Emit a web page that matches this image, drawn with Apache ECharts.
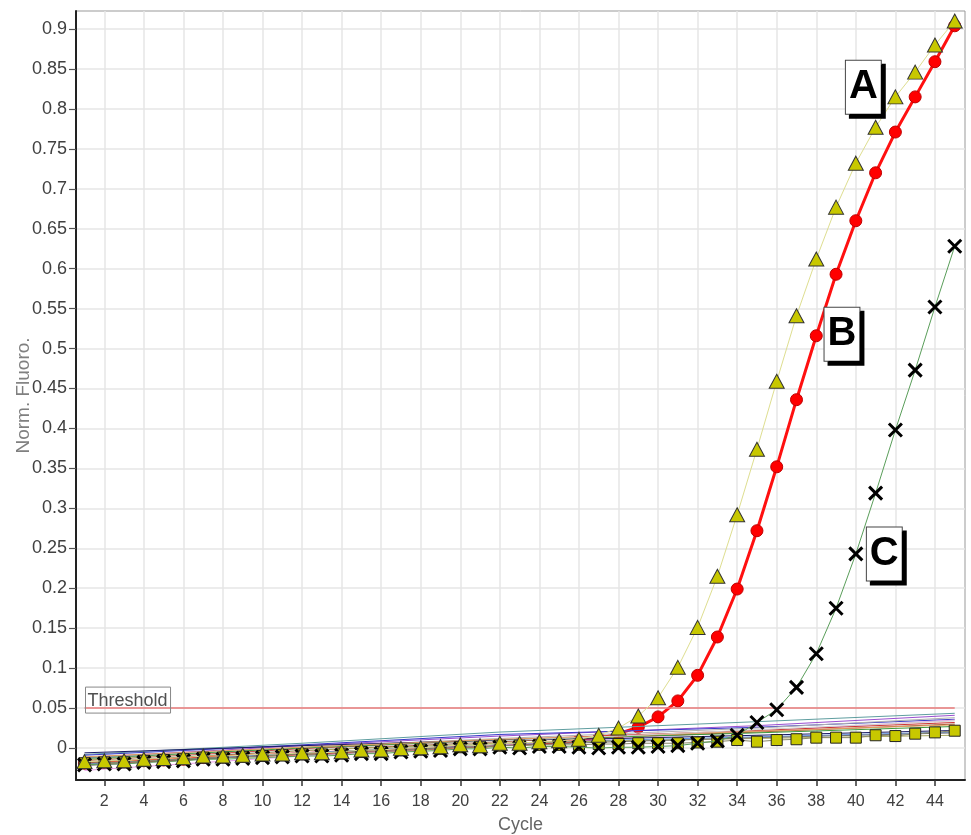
<!DOCTYPE html>
<html><head><meta charset="utf-8">
<script src="https://cdn.jsdelivr.net/npm/echarts@6/dist/echarts.min.js"></script>
<style>html,body{margin:0;padding:0;background:#fff}#c{width:971px;height:835px}</style>
</head><body><div id="c"></div>
<script>
// ---- data ----
const cycles = [1,2,3,4,5,6,7,8,9,10,11,12,13,14,15,16,17,18,19,20,21,22,23,24,25,26,27,28,29,30,31,32,33,34,35,36,37,38,39,40,41,42,43,44,45];
const xTickValues = [2,4,6,8,10,12,14,16,18,20,22,24,26,28,30,32,34,36,38,40,42,44];
const yTickValues = [0,0.05,0.1,0.15,0.2,0.25,0.3,0.35,0.4,0.45,0.5,0.55,0.6,0.65,0.7,0.75,0.8,0.85,0.9];

// A: yellow triangles
const seriesA = [-0.017,-0.016,-0.016,-0.014,-0.013,-0.012,-0.010,-0.010,-0.009,-0.0075,-0.0075,-0.006,-0.006,-0.0046,-0.0025,-0.0025,-0.0004,0.0004,0.0017,0.004,0.003,0.006,0.006,0.008,0.009,0.011,0.016,0.025,0.040,0.063,0.101,0.151,0.215,0.292,0.374,0.459,0.541,0.612,0.677,0.732,0.777,0.815,0.846,0.880,0.910];
// B: red circles
const seriesB = [-0.019,-0.018,-0.017,-0.016,-0.015,-0.014,-0.012,-0.011,-0.010,-0.009,-0.008,-0.007,-0.006,-0.005,-0.004,-0.003,-0.002,-0.001,0.000,0.002,0.002,0.004,0.005,0.006,0.007,0.009,0.012,0.018,0.026,0.039,0.059,0.091,0.139,0.199,0.272,0.352,0.436,0.516,0.593,0.660,0.720,0.771,0.815,0.859,0.904];
// C: black crosses
const seriesC = [-0.021,-0.020,-0.020,-0.018,-0.017,-0.016,-0.014,-0.014,-0.013,-0.012,-0.011,-0.010,-0.010,-0.009,-0.007,-0.007,-0.005,-0.004,-0.003,-0.001,-0.001,0.001,0.000,0.002,0.002,0.001,0.000,0.001,0.001,0.002,0.003,0.006,0.009,0.016,0.032,0.048,0.076,0.118,0.175,0.243,0.319,0.398,0.473,0.552,0.628];
// D: yellow squares
const seriesD = [-0.019,-0.018,-0.018,-0.016,-0.015,-0.014,-0.012,-0.012,-0.011,-0.010,-0.009,-0.008,-0.008,-0.007,-0.005,-0.005,-0.003,-0.002,-0.001,0.001,0.001,0.003,0.003,0.004,0.004,0.004,0.005,0.005,0.006,0.006,0.006,0.007,0.008,0.010,0.008,0.010,0.011,0.013,0.013,0.013,0.016,0.015,0.018,0.0196,0.0217];

// background (unlabelled) traces, sampled at these cycles
const bgCycles = [1,12,22,28,35,45];
const bg1  = [-0.008,0.006,0.020,0.026,0.033,0.0435];
const bg2  = [-0.012,0.003,0.015,0.021,0.028,0.041];
const bg3  = [-0.009,0.004,0.017,0.021,0.026,0.036];
const bg4  = [-0.014,0.001,0.012,0.018,0.025,0.038];
const bg5  = [-0.028,-0.010,0.004,0.012,0.021,0.035];
const bg6  = [-0.016,-0.001,0.010,0.016,0.022,0.032];
const bg7  = [-0.018,-0.003,0.008,0.014,0.020,0.030];
const bg8  = [-0.013,0.000,0.010,0.014,0.019,0.027];
const bg9  = [-0.006,0.003,0.010,0.012,0.016,0.022];
const bg10 = [-0.020,-0.006,0.005,0.010,0.014,0.020];
const bg11 = [-0.015,-0.003,0.006,0.009,0.012,0.016];
const bg12 = [-0.011,0.001,0.011,0.015,0.021,0.029];
const bg13 = [-0.017,-0.002,0.009,0.015,0.023,0.034];
const bg14 = [-0.022,-0.007,0.003,0.008,0.013,0.019];
const bgTraces = [bg1,bg2,bg3,bg4,bg5,bg6,bg7,bg8,bg9,bg10,bg11,bg12,bg13,bg14];

const thresholdValue = 0.05;
const thresholdSpan = [1, 45];
const thresholdText = 'Threshold';

const annoNames = ['A','B','C'];
const annoCycles = [40.38, 39.30, 41.44];
const annoValues = [0.827, 0.518, 0.243];

// ---- styles ----
const FONT = 'Arial, "Liberation Sans", sans-serif';
const bgColors = ['#5f9ea0','#9a4fd0','#3838c8','#b0b0b0','#e8a0e8','#cc3333','#a0522d','#3c9a3c','#1a1a66','#5c8fe0','#a8a860','#e0a060','#d0d0d0','#707070'];

const pairs = (xs, ys) => xs.map((x, i) => [x, ys[i]]);

const series = [];
series.push({
  type: 'line', data: pairs(cycles, seriesB), z: 1, showAllSymbol: true,
  symbol: 'circle', symbolSize: 12,
  itemStyle: { color: '#ff0000', borderColor: '#c00000', borderWidth: 1 },
  lineStyle: { color: '#ff1010', width: 3 }
});
bgTraces.forEach((tr, k) => {
  series.push({
    type: 'line', data: pairs(bgCycles, tr), symbol: 'none', silent: true,
    lineStyle: { color: bgColors[k], width: 1 }, z: 2
  });
});
series.push({
  type: 'line', silent: true, z: 3,
  data: [
    { value: [thresholdSpan[0], thresholdValue], label: {
        show: true, formatter: thresholdText, position: [1, -21],
        color: '#505050', fontSize: 18, fontFamily: FONT,
        borderColor: '#888', borderWidth: 1, padding: [4, 3, 2, 2], lineHeight: 20
    } },
    [thresholdSpan[1], thresholdValue]
  ],
  symbol: 'circle', symbolSize: 0,
  lineStyle: { color: '#e87a7a', width: 1.5 }
});
series.push({
  type: 'line', data: pairs(cycles, seriesD), z: 4, showAllSymbol: true,
  symbol: 'rect', symbolSize: 11,
  itemStyle: { color: '#c8c800', borderColor: '#222', borderWidth: 1 },
  lineStyle: { color: '#8a8a6a', width: 1 }
});
series.push({
  type: 'line', data: pairs(cycles, seriesC), z: 5, showAllSymbol: true,
  symbol: 'path://M0,0L10,10M10,0L0,10', symbolSize: 13,
  itemStyle: { color: 'none', borderColor: '#000', borderWidth: 3 },
  lineStyle: { color: '#5a9e5a', width: 1 }
});
series.push({
  type: 'line', data: pairs(cycles, seriesA), z: 7, showAllSymbol: true,
  symbol: 'triangle', symbolSize: [15, 14],
  itemStyle: { color: '#c8c800', borderColor: '#333', borderWidth: 1 },
  lineStyle: { color: '#dede90', width: 1 }
});
series.push({
  type: 'scatter', z: 10, silent: true, symbolSize: 0,
  itemStyle: { opacity: 1 },
  data: annoNames.map((n, i) => ({ name: n, value: [annoCycles[i], annoValues[i]] })),
  label: {
    show: true, position: 'inside', formatter: '{b}',
    fontSize: 40, fontWeight: 'bold', fontFamily: FONT, color: '#000',
    backgroundColor: '#fff', borderColor: '#444', borderWidth: 1,
    padding: [4, 3, 3, 3], lineHeight: 46,
    shadowColor: '#000', shadowOffsetX: 4, shadowOffsetY: 4, shadowBlur: 0
  }
});

const chart = echarts.init(document.getElementById('c'), null, { renderer: 'canvas' });
chart.setOption({
  animation: false,
  backgroundColor: '#fff',
  textStyle: { fontFamily: FONT },
  grid: { left: 76, right: 6, top: 11, bottom: 55, show: true, borderColor: '#999', borderWidth: 1, containLabel: false, outerBoundsMode: 'none' },
  xAxis: {
    type: 'value', min: 0.57, max: 45.52,
    name: 'Cycle', nameLocation: 'middle', nameGap: 36, nameMoveOverlap: false,
    nameTextStyle: { color: '#666', fontSize: 18, fontFamily: FONT },
    axisLine: { show: true, onZero: false, lineStyle: { color: '#222', width: 2 } },
    axisTick: { show: true, length: 6, customValues: xTickValues, lineStyle: { color: '#333', width: 1.5 } },
    axisLabel: { customValues: xTickValues, color: '#404040', fontSize: 16, margin: 14, fontFamily: FONT },
    splitLine: { show: true, lineStyle: { color: '#e6e6e6', width: 1.5 } }
  },
  yAxis: {
    type: 'value', min: -0.04, max: 0.9225,
    name: 'Norm. Fluoro.', nameLocation: 'middle', nameGap: 43, nameRotate: 90, nameMoveOverlap: false,
    nameTextStyle: { color: '#808080', fontSize: 19, fontFamily: FONT },
    axisLine: { show: true, onZero: false, lineStyle: { color: '#222', width: 2 } },
    axisTick: { show: true, length: 7, customValues: yTickValues, lineStyle: { color: '#555', width: 1.2 } },
    axisLabel: { customValues: yTickValues, color: '#404040', fontSize: 18, margin: 9, fontFamily: FONT },
    splitLine: { show: true, lineStyle: { color: '#e6e6e6', width: 1.5 } }
  },
  series: series
});
</script>
</body></html>
